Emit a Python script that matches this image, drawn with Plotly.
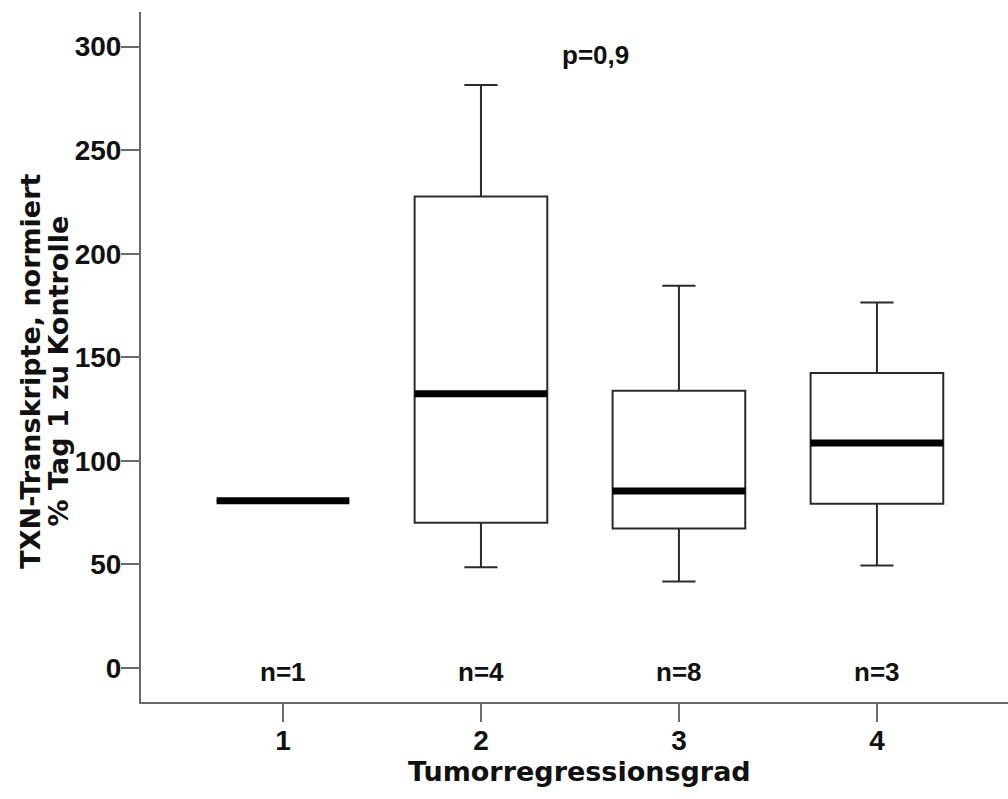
import plotly.graph_objects as go

# Tumour regression grade groups and box statistics (TXN transcripts, % of day-1 control)
grades = [1, 2, 3, 4]
q1 = [80.7, 70.0, 67.2, 79.2]
medians = [80.7, 132.4, 85.4, 108.6]
q3 = [80.7, 227.6, 133.8, 142.4]
lower_whisker = [80.7, 48.6, 41.7, 49.4]
upper_whisker = [80.7, 281.5, 184.5, 176.4]
n_counts = [1, 4, 8, 3]
y_ticks = [0, 50, 100, 150, 200, 250, 300]
p_label = "p=0,9"

BOX_W = 0.67
ARIAL = "Liberation Sans, Arial, sans-serif"
TICK_FONT = dict(family=ARIAL, size=28, color="#111111", weight="bold")
LABEL_FONT = dict(family=ARIAL, size=26, color="#111111", weight="bold")
TITLE_FONT = dict(family="DejaVu Sans, sans-serif", size=27, color="#111111", weight="bold")
AXIS_GREY = "#6a6a6a"

fig = go.Figure()

fig.add_trace(go.Box(
    x=grades, q1=q1, median=medians, q3=q3,
    lowerfence=lower_whisker, upperfence=upper_whisker,
    width=BOX_W, whiskerwidth=0.25,
    fillcolor="white", line=dict(color="#2a2a2a", width=2),
    boxpoints=False, hoverinfo="skip", showlegend=False,
))

# thick median bars drawn on top of the boxes
mx, my = [], []
for g, m in zip(grades, medians):
    mx += [g - BOX_W / 2, g + BOX_W / 2, None]
    my += [m, m, None]
fig.add_trace(go.Scatter(
    x=mx, y=my, mode="lines", line=dict(color="black", width=7),
    hoverinfo="skip", showlegend=False,
))

annotations = []
for g, n in zip(grades, n_counts):
    annotations.append(dict(
        x=g, y=-2, xref="x", yref="y", text=f"n={n}", showarrow=False,
        xanchor="center", yanchor="middle", font=LABEL_FONT,
    ))
annotations.append(dict(
    x=2.58, y=296, xref="x", yref="y", text=p_label, showarrow=False,
    xanchor="center", yanchor="middle", font=LABEL_FONT,
))
annotations.append(dict(
    x=2.5, y=-0.1, xref="x", yref="paper", text="Tumorregressionsgrad", showarrow=False,
    xanchor="center", yanchor="middle", font=TITLE_FONT,
))
annotations.append(dict(
    x=-0.127, y=0.48, xref="paper", yref="paper", text="TXN-Transkripte, normiert",
    showarrow=False, textangle=-90, xanchor="center", yanchor="middle", font=TITLE_FONT,
))
annotations.append(dict(
    x=-0.095, y=0.48, xref="paper", yref="paper", text="% Tag 1 zu Kontrolle",
    showarrow=False, textangle=-90, xanchor="center", yanchor="middle", font=TITLE_FONT,
))

fig.update_layout(
    width=1008, height=799,
    margin=dict(l=141, r=0, t=12, b=97),
    paper_bgcolor="white", plot_bgcolor="white",
    annotations=annotations,
    showlegend=False,
)
fig.update_xaxes(
    range=[0.283, 4.662], tickvals=grades, ticktext=[str(g) for g in grades],
    showline=True, linecolor=AXIS_GREY, linewidth=2,
    ticks="outside", ticklen=18, tickwidth=2, tickcolor=AXIS_GREY,
    showgrid=False, zeroline=False, tickfont=TICK_FONT, ticklabelstandoff=-6,
)
fig.update_yaxes(
    range=[-16.55, 316.75], tickvals=y_ticks,
    showline=True, linecolor=AXIS_GREY, linewidth=2,
    ticks="outside", ticklen=18, tickwidth=2, tickcolor=AXIS_GREY,
    showgrid=False, zeroline=False, tickfont=TICK_FONT, ticklabelstandoff=-6,
)

fig.write_html("out.html")
